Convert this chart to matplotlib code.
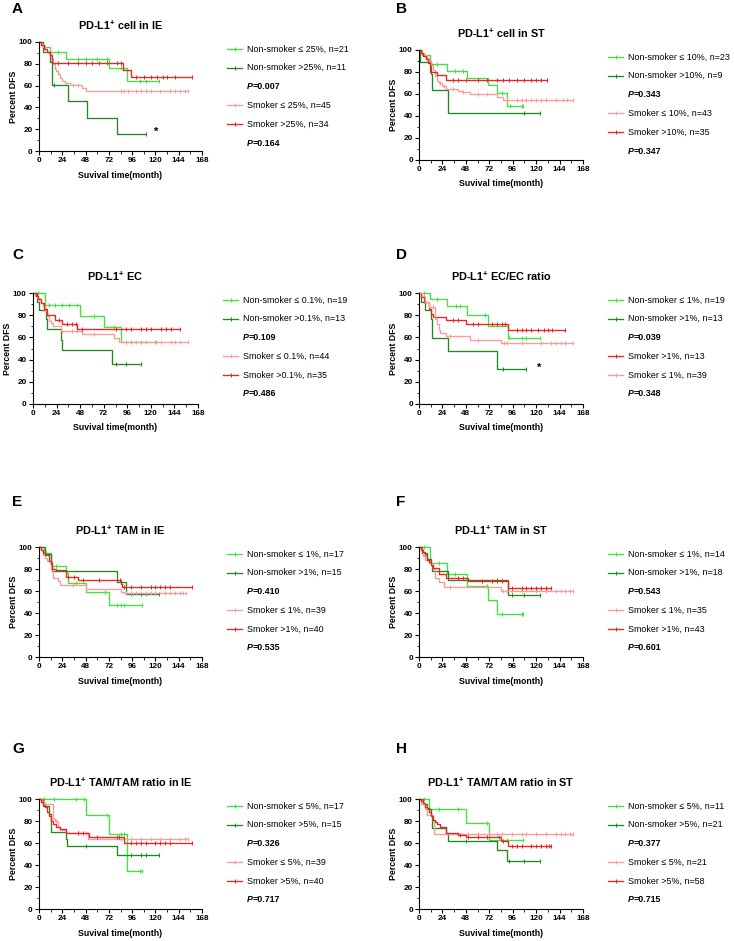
import numpy as np
import matplotlib
matplotlib.use('Agg')
import matplotlib.pyplot as plt
from matplotlib.lines import Line2D
from matplotlib.ticker import MultipleLocator

plt.rcParams['font.family'] = ['Liberation Sans', 'DejaVu Sans']
plt.rcParams['mathtext.fontset'] = 'custom'
plt.rcParams['mathtext.rm'] = 'Liberation Sans'
plt.rcParams['mathtext.bf'] = 'Liberation Sans:bold'

# colours of the four groups
c_ns_lo = '#3ee63e'
c_ns_hi = '#1e8a1e'
c_sm_lo = '#ff9a9a'
c_sm_hi = '#f52020'

# step data: (time, survival after event) and censor times (last = end of curve)
A_ns_lo = [(4, 95.2), (11, 90.5), (28, 84.8), (72, 76.6), (91, 64)]
A_ns_lo_c = [6, 20, 40, 48, 60, 70, 85, 104, 110, 124]
A_ns_hi = [(4, 90.9), (11, 81.8), (13, 61), (30, 45.5), (49, 30.3), (80, 15.2)]
A_ns_hi_c = [15, 110]
A_sm_lo = [(2, 97.8), (4, 95.6), (6, 93.3), (8, 91.1), (10, 88.9), (12, 84.4), (14, 80), (16, 75.6),
           (18, 73.3), (20, 71.1), (22, 66.7), (24, 64.4), (27, 62.2), (32, 60.5), (44, 58), (48, 55.3)]
A_sm_lo_c = [35, 40, 84, 88, 92, 100, 105, 110, 115, 125, 135, 140, 145, 150, 154]
A_sm_hi = [(2, 97), (5, 94), (8, 91.2), (11, 88.2), (13, 80.6), (87, 74.3), (95, 68)]
A_sm_hi_c = [20, 30, 40, 48, 55, 62, 70, 80, 84, 100, 108, 115, 122, 128, 132, 140, 158]

B_ns_lo = [(3, 95.7), (11, 87), (29, 81), (49, 75), (71, 68), (80, 61), (90, 49)]
B_ns_lo_c = [5, 18, 37, 45, 85, 93, 105, 107]
B_ns_hi = [(1, 88.9), (12, 77.8), (13, 63.6), (30, 42.4)]
B_ns_hi_c = [108, 124]
B_sm_lo = [(2, 97.7), (5, 95.3), (8, 93), (10, 90.7), (12, 86), (14, 81.4), (16, 76.7), (18, 72),
           (20, 69.8), (24, 67.4), (28, 65), (40, 62.8), (44, 61.6), (52, 59.7), (80, 57), (86, 54.1)]
B_sm_lo_c = [22, 26, 35, 45, 60, 70, 90, 100, 105, 110, 115, 120, 125, 130, 140, 148, 152, 158]
B_sm_hi = [(2, 97.1), (4, 94.3), (7, 91.4), (9, 88.6), (11, 80), (18, 77.1), (28, 72.5)]
B_sm_hi_c = [35, 40, 48, 60, 70, 80, 86, 92, 100, 108, 115, 120, 125, 131]

C_ns_lo = [(12, 89.5), (48, 79.5), (72, 69.5), (90, 55.6)]
C_ns_lo_c = [5, 16, 22, 30, 37, 45, 62, 82, 95, 100, 110, 124]
C_ns_hi = [(4, 92.3), (6, 84.6), (13, 76.9), (14, 67.7), (29, 58), (30, 48.4), (80, 36.3)]
C_ns_hi_c = [85, 95, 110]
C_sm_lo = [(2, 97.7), (4, 95.5), (6, 93.2), (8, 90.9), (10, 88.6), (12, 84), (14, 79.5), (16, 75),
           (18, 72.7), (20, 70.5), (28, 65.9), (50, 62.8), (82, 59.6), (88, 55.5)]
C_sm_lo_c = [30, 40, 45, 62, 95, 105, 115, 125, 130, 140, 145, 150, 158]
C_sm_hi = [(3, 97.1), (5, 94.3), (8, 91.4), (11, 85.7), (14, 80), (22, 75.8), (30, 72), (45, 67.9)]
C_sm_hi_c = [26, 35, 40, 44, 50, 85, 95, 100, 110, 115, 120, 130, 135, 140, 150]

D_ns_lo = [(11, 94.7), (29, 88.4), (49, 80), (71, 70.7), (91, 59.8)]
D_ns_lo_c = [5, 18, 38, 42, 68, 92, 106, 110, 124]
D_ns_hi = [(2, 92.3), (6, 84.6), (12, 76.9), (13, 59.5), (30, 47.3), (80, 31.5)]
D_ns_hi_c = [86, 110]
D_sm_hi = [(2, 96.2), (5, 92.3), (10, 86), (12, 81), (14, 78.5), (28, 75.4), (48, 72), (91, 66.8)]
D_sm_hi_c = [35, 40, 55, 60, 75, 80, 85, 88, 100, 105, 110, 115, 122, 128, 132, 136, 150]
D_sm_lo = [(3, 97.4), (6, 92.3), (10, 87.2), (16, 76.9), (18, 71.8), (20, 66.7), (22, 64.1), (28, 61.3),
           (52, 57.8), (84, 54.7)]
D_sm_lo_c = [14, 32, 60, 87, 90, 105, 125, 135, 140, 145, 150, 158]

E_ns_lo = [(5, 94.1), (12, 82.4), (28, 76.5), (30, 67.6), (48, 58.8), (72, 47)]
E_ns_lo_c = [7, 18, 38, 68, 80, 84, 88, 106]
E_ns_hi = [(6, 93.3), (12, 86.7), (13, 78.2), (80, 67.9), (90, 57.2)]
E_ns_hi_c = [95, 105, 110, 124]
E_sm_lo = [(2, 97.4), (4, 92.3), (6, 89.7), (8, 87.2), (12, 79.5), (14, 71.8), (20, 69.2), (22, 65.5),
           (48, 61.5), (84, 59), (88, 58.5)]
E_sm_lo_c = [35, 90, 95, 100, 110, 115, 120, 130, 135, 140, 145, 148, 152]
E_sm_hi = [(2, 97.5), (4, 95), (6, 92.5), (10, 87.5), (12, 85), (13, 80), (18, 78.8), (28, 73),
           (40, 69.7), (84, 66), (86, 63.6)]
E_sm_hi_c = [30, 36, 45, 62, 83, 88, 95, 105, 115, 120, 125, 130, 135, 158]

F_ns_lo = [(11, 85.7), (29, 75.2), (49, 64.5), (71, 51.5), (80, 39)]
F_ns_lo_c = [5, 20, 37, 70, 85, 105, 107]
F_ns_hi = [(3, 94.4), (8, 88.9), (12, 83.3), (13, 77.8), (30, 70), (91, 56)]
F_ns_hi_c = [80, 95, 108, 124]
F_sm_lo = [(2, 97.1), (4, 91.4), (6, 88.6), (10, 85.7), (14, 80), (16, 71.4), (20, 68.6), (26, 63.6),
           (84, 60.3)]
F_sm_lo_c = [32, 86, 90, 95, 105, 120, 130, 140, 145, 150, 155, 158]
F_sm_hi = [(2, 97.7), (4, 95.3), (6, 93), (8, 88.4), (10, 86), (12, 83.7), (14, 81.2), (20, 75.2),
           (28, 72), (50, 68.8), (91, 62.7)]
F_sm_hi_c = [40, 45, 65, 75, 80, 85, 95, 105, 110, 115, 120, 125, 130, 135]

G_ns_lo = [(48, 85.7), (72, 68.6), (91, 34.3)]
G_ns_lo_c = [5, 15, 38, 46, 70, 85, 88, 104, 106]
G_ns_hi = [(4, 93.3), (10, 86.7), (12, 70), (28, 63.5), (29, 57.4), (80, 49.2)]
G_ns_hi_c = [48, 95, 105, 110, 124]
G_sm_lo = [(3, 97.4), (6, 95.8), (14, 82), (16, 79.8), (20, 75), (22, 72), (28, 69), (50, 63.4)]
G_sm_lo_c = [18, 40, 48, 85, 88, 95, 105, 115, 125, 135, 145, 150, 154]
G_sm_hi = [(2, 97.5), (4, 95), (6, 92.5), (8, 88), (10, 85), (12, 80), (14, 77.5), (18, 75),
           (22, 72.5), (28, 68.9), (52, 65.9), (88, 59.8)]
G_sm_hi_c = [40, 45, 60, 80, 82, 95, 100, 105, 110, 120, 125, 130, 135, 158]

H_ns_lo = [(10, 90.9), (48, 77.9), (72, 62.3)]
H_ns_lo_c = [5, 20, 40, 70, 90, 107]
H_ns_hi = [(4, 95.2), (8, 90.5), (12, 85.7), (13, 74), (28, 68), (30, 62), (80, 53.8), (90, 43.5)]
H_ns_hi_c = [48, 92, 108, 124]
H_sm_lo = [(2, 95.2), (6, 90.5), (8, 85.7), (14, 81), (15, 68)]
H_sm_lo_c = [40, 50, 60, 72, 80, 85, 95, 105, 110, 120, 130, 140, 145, 150, 155, 158]
H_sm_hi = [(2, 98.3), (4, 96.6), (6, 93.1), (8, 91.4), (10, 87.9), (12, 84.5), (14, 81), (16, 79.3),
           (18, 77.6), (22, 74.1), (28, 69), (40, 67.2), (48, 65.5), (84, 62), (91, 57.4)]
H_sm_hi_c = [42, 50, 60, 70, 82, 86, 95, 100, 105, 115, 120, 125, 130, 133, 135]

titles = ['PD-L1$^{\\mathbf{+}}$ cell in IE', 'PD-L1$^{\\mathbf{+}}$ cell in ST', 'PD-L1$^{\\mathbf{+}}$ EC',
          'PD-L1$^{\\mathbf{+}}$ EC/EC ratio', 'PD-L1$^{\\mathbf{+}}$ TAM in IE', 'PD-L1$^{\\mathbf{+}}$ TAM in ST',
          'PD-L1$^{\\mathbf{+}}$ TAM/TAM ratio in IE', 'PD-L1$^{\\mathbf{+}}$ TAM/TAM ratio in ST']
letters = ['A', 'B', 'C', 'D', 'E', 'F', 'G', 'H']

labels = [
    ['Non-smoker ≤ 25%, n=21', 'Non-smoker >25%, n=11', 'Smoker ≤ 25%, n=45', 'Smoker >25%, n=34'],
    ['Non-smoker ≤ 10%, n=23', 'Non-smoker >10%, n=9', 'Smoker ≤ 10%, n=43', 'Smoker >10%, n=35'],
    ['Non-smoker ≤ 0.1%, n=19', 'Non-smoker >0.1%, n=13', 'Smoker ≤ 0.1%, n=44', 'Smoker >0.1%, n=35'],
    ['Non-smoker ≤ 1%, n=19', 'Non-smoker >1%, n=13', 'Smoker >1%, n=13', 'Smoker ≤ 1%, n=39'],
    ['Non-smoker ≤ 1%, n=17', 'Non-smoker >1%, n=15', 'Smoker ≤ 1%, n=39', 'Smoker >1%, n=40'],
    ['Non-smoker ≤ 1%, n=14', 'Non-smoker >1%, n=18', 'Smoker ≤ 1%, n=35', 'Smoker >1%, n=43'],
    ['Non-smoker ≤ 5%, n=17', 'Non-smoker >5%, n=15', 'Smoker ≤ 5%, n=39', 'Smoker >5%, n=40'],
    ['Non-smoker ≤ 5%, n=11', 'Non-smoker >5%, n=21', 'Smoker ≤ 5%, n=21', 'Smoker >5%, n=58'],
]
p_nonsmoker = ['0.007', '0.343', '0.109', '0.039', '0.410', '0.543', '0.326', '0.377']
p_smoker = ['0.164', '0.347', '0.486', '0.348', '0.535', '0.601', '0.717', '0.715']

curves = [
    [(A_ns_lo, A_ns_lo_c, c_ns_lo), (A_ns_hi, A_ns_hi_c, c_ns_hi), (A_sm_lo, A_sm_lo_c, c_sm_lo), (A_sm_hi, A_sm_hi_c, c_sm_hi)],
    [(B_ns_lo, B_ns_lo_c, c_ns_lo), (B_ns_hi, B_ns_hi_c, c_ns_hi), (B_sm_lo, B_sm_lo_c, c_sm_lo), (B_sm_hi, B_sm_hi_c, c_sm_hi)],
    [(C_ns_lo, C_ns_lo_c, c_ns_lo), (C_ns_hi, C_ns_hi_c, c_ns_hi), (C_sm_lo, C_sm_lo_c, c_sm_lo), (C_sm_hi, C_sm_hi_c, c_sm_hi)],
    [(D_ns_lo, D_ns_lo_c, c_ns_lo), (D_ns_hi, D_ns_hi_c, c_ns_hi), (D_sm_hi, D_sm_hi_c, c_sm_hi), (D_sm_lo, D_sm_lo_c, c_sm_lo)],
    [(E_ns_lo, E_ns_lo_c, c_ns_lo), (E_ns_hi, E_ns_hi_c, c_ns_hi), (E_sm_lo, E_sm_lo_c, c_sm_lo), (E_sm_hi, E_sm_hi_c, c_sm_hi)],
    [(F_ns_lo, F_ns_lo_c, c_ns_lo), (F_ns_hi, F_ns_hi_c, c_ns_hi), (F_sm_lo, F_sm_lo_c, c_sm_lo), (F_sm_hi, F_sm_hi_c, c_sm_hi)],
    [(G_ns_lo, G_ns_lo_c, c_ns_lo), (G_ns_hi, G_ns_hi_c, c_ns_hi), (G_sm_lo, G_sm_lo_c, c_sm_lo), (G_sm_hi, G_sm_hi_c, c_sm_hi)],
    [(H_ns_lo, H_ns_lo_c, c_ns_lo), (H_ns_hi, H_ns_hi_c, c_ns_hi), (H_sm_lo, H_sm_lo_c, c_sm_lo), (H_sm_hi, H_sm_hi_c, c_sm_hi)],
]

# significance stars (panel index, time, percent)
stars = [(0, 121, 17.7), (3, 123.6, 33)]

# axes boxes in pixels: left, top, right, bottom
W, H = 734, 941
boxes = [(39, 42, 202, 151), (419, 50, 583, 160),
         (33, 293, 198, 404), (419, 293, 583, 404),
         (39, 547, 202, 657), (419, 547, 583, 657),
         (39, 799, 202, 909), (419, 799, 583, 909)]
letter_xy = [(12, 13), (396, 13), (12, 259), (396, 259), (12, 506), (396, 506), (12, 753), (396, 753)]


def fx(x):
    return x / W


def fy(y):
    return 1 - y / H


def km(ax, steps, cens, color):
    t = [0] + [s[0] for s in steps]
    v = [100] + [s[1] for s in steps]
    end = max(cens)
    ax.step(t + [end], v + [v[-1]], where='post', color=color, lw=0.95, clip_on=False)
    cy = [v[np.searchsorted(t, c, side='right') - 1] for c in cens]
    ax.plot(cens, cy, ls='none', marker='|', ms=3, mew=0.7, color=color, clip_on=False)


fig = plt.figure(figsize=(W / 100, H / 100), dpi=100)

for i in range(8):
    l, t, r, b = boxes[i]
    ax = fig.add_axes([fx(l), fy(b), (r - l) / W, (b - t) / H])
    for steps, cens, color in curves[i]:
        km(ax, steps, cens, color)
    ax.set_xlim(0, 168)
    ax.set_ylim(0, 100)
    ax.xaxis.set_major_locator(MultipleLocator(24))
    ax.xaxis.set_minor_locator(MultipleLocator(12))
    ax.yaxis.set_major_locator(MultipleLocator(20))
    ax.yaxis.set_minor_locator(MultipleLocator(10))
    ax.spines['top'].set_visible(False)
    ax.spines['right'].set_visible(False)
    ax.spines['left'].set_linewidth(0.8)
    ax.spines['bottom'].set_linewidth(0.8)
    ax.tick_params(which='major', length=3, width=0.8, labelsize=5.9, pad=1.5)
    ax.tick_params(which='minor', length=1.8, width=0.6)
    for lab in ax.get_xticklabels() + ax.get_yticklabels():
        lab.set_fontweight('bold')
    ax.set_xlabel('Suvival time(month)', fontsize=6.3, fontweight='bold', labelpad=4.5)
    ax.set_ylabel('Percent DFS', fontsize=6.3, fontweight='bold', labelpad=1)
    ax.set_title(titles[i], fontsize=7.8, fontweight='bold', pad=9)

    fig.text(fx(letter_xy[i][0]), fy(letter_xy[i][1]), letters[i], fontsize=11, fontweight='bold', va='baseline')

    # legend drawn by hand so the P values sit between the groups
    x0 = r + 25
    rows = [0, 1, 3, 4]
    for k in range(4):
        yy = fy(t + 7 + rows[k] * 18.8)
        col = curves[i][k][2]
        fig.add_artist(Line2D([fx(x0), fx(x0 + 15)], [yy, yy], color=col, lw=0.95))
        fig.add_artist(Line2D([fx(x0 + 7.5)], [yy], color=col, marker='|', ms=3, mew=0.7))
        fig.text(fx(x0 + 20), yy, labels[i][k], fontsize=6.4, va='center')
    for k, pv in zip([2, 5], [p_nonsmoker[i], p_smoker[i]]):
        yy = fy(t + 7 + k * 18.8)
        fig.text(fx(x0 + 20), yy, 'P', fontsize=6.4, va='center', fontweight='bold', style='italic')
        fig.text(fx(x0 + 25.5), yy, '=' + pv, fontsize=6.4, va='center', fontweight='bold')

for i, st, sv in stars:
    fig.axes[i].text(st, sv, '*', fontsize=8, fontweight='bold', ha='center', va='center')

fig.savefig('out.png', dpi=100)
